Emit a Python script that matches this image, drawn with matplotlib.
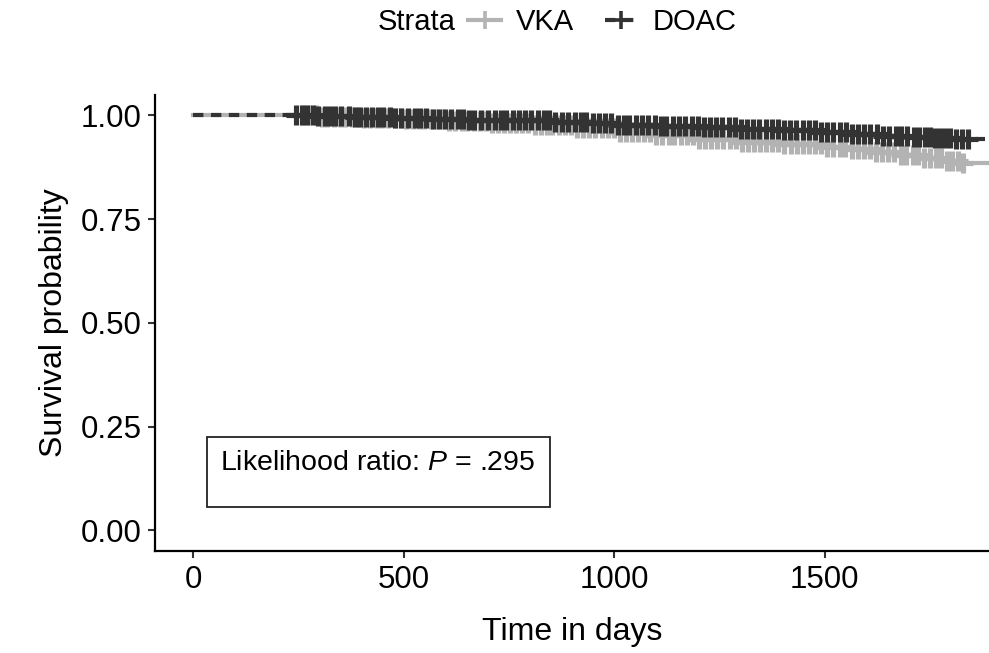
import numpy as np
import matplotlib
matplotlib.use("Agg")
import matplotlib.pyplot as plt
import matplotlib.patches as patches
from matplotlib.lines import Line2D

plt.rcParams['font.family'] = ['Liberation Sans', 'DejaVu Sans']
plt.rcParams['mathtext.fontset'] = 'custom'
plt.rcParams['mathtext.rm'] = 'Liberation Sans'
plt.rcParams['mathtext.it'] = 'Liberation Sans:italic'

# ---------------------------------------------------------------- data
groups = ["VKA", "DOAC"]
colors = {"VKA": "#b3b3b3", "DOAC": "#333333"}

# step times (days) and survival after each step
vka_times = [0, 300, 400, 500, 600, 700, 800, 900, 1000, 1100, 1200, 1300, 1400,
             1500, 1560, 1620, 1680, 1730, 1780, 1820, 1890]
vka_surv = [1.0, 0.997, 0.994, 0.991, 0.987, 0.982, 0.976, 0.969, 0.961, 0.953, 0.944,
            0.937, 0.930, 0.923, 0.918, 0.912, 0.905, 0.898, 0.891, 0.886, 0.886]

doac_times = [0, 290, 380, 470, 560, 650, 750, 850, 950, 1000, 1100, 1200, 1300,
              1400, 1480, 1560, 1630, 1700, 1760, 1800, 1880]
doac_surv = [1.0, 0.998, 0.996, 0.994, 0.992, 0.990, 0.988, 0.985, 0.981, 0.978, 0.975,
             0.971, 0.968, 0.965, 0.960, 0.955, 0.951, 0.948, 0.945, 0.942, 0.942]

# censoring times (days)
vka_cens = [262, 276, 291, 305, 318, 334, 349, 361, 377, 392, 405, 421, 436, 448, 463, 479,
            493, 506, 522, 537, 549, 565, 580, 594, 607, 623, 638, 651, 666, 681, 695, 709,
            724, 739, 752, 767, 782, 796, 811, 825, 840, 853, 868, 883, 897, 912, 926, 941,
            955, 970, 984, 999, 1013, 1028, 1042, 1057, 1071, 1086, 1100, 1114, 1129, 1143,
            1158, 1172, 1187, 1201, 1216, 1230, 1245, 1259, 1274, 1288, 1303, 1317, 1332,
            1346, 1361, 1375, 1390, 1404, 1419, 1433, 1448, 1462, 1477, 1491, 1506, 1520,
            1535, 1549, 1564, 1578, 1593, 1607, 1622, 1636, 1651, 1665, 1680, 1694, 1709,
            1722, 1736, 1749, 1763, 1776, 1790, 1803, 1816, 1828]

doac_cens = [245, 258, 270, 284, 296, 312, 325, 338, 352, 370, 384, 396, 410, 424, 440, 452,
             468, 480, 494, 510, 526, 538, 552, 570, 585, 598, 612, 628, 640, 656, 668, 684,
             700, 716, 730, 744, 760, 774, 788, 802, 818, 832, 846, 860, 876, 890, 906, 920,
             934, 950, 964, 978, 992, 1008, 1022, 1036, 1052, 1066, 1080, 1096, 1110, 1124,
             1140, 1154, 1168, 1184, 1198, 1212, 1228, 1242, 1256, 1272, 1286, 1300, 1316,
             1330, 1344, 1360, 1374, 1388, 1404, 1418, 1432, 1448, 1462, 1476, 1492, 1506,
             1520, 1536, 1550, 1564, 1580, 1594, 1608, 1624, 1638, 1652, 1668, 1682, 1696,
             1712, 1724, 1738, 1750, 1762, 1774, 1786, 1798, 1812, 1826, 1840]

p_text = "Likelihood ratio: $P$ = .295"

curves = {
    "VKA": (vka_times, vka_surv, vka_cens, "-"),
    "DOAC": (doac_times, doac_surv, doac_cens, (0, (2.5, 1.8))),
}

# ---------------------------------------------------------------- plot
fig = plt.figure(figsize=(9.89, 6.53), dpi=100)
ax = fig.add_axes([0.157, 0.156, 0.843, 0.699])

for g in groups:
    t, s, c, ls = curves[g]
    t = np.array(t)
    s = np.array(s)
    ax.step(t, s, where="post", color=colors[g], lw=3, linestyle=ls, zorder=2)
    idx = np.searchsorted(t, c, side="right") - 1
    ax.plot(c, s[idx], linestyle="none", marker="+", markersize=14, mew=3.7,
            color=colors[g], zorder=3)

ax.set_xlim(-90, 1890)
ax.set_ylim(-0.05, 1.05)
ax.set_xticks([0, 500, 1000, 1500])
ax.set_yticks([0, 0.25, 0.5, 0.75, 1.0])
ax.set_yticklabels(["0.00", "0.25", "0.50", "0.75", "1.00"])
ax.tick_params(labelsize=22.5, length=5, width=1.5, colors="#333333", labelcolor="black", pad=5)
for side in ["top", "right"]:
    ax.spines[side].set_visible(False)
for side in ["left", "bottom"]:
    ax.spines[side].set_linewidth(1.6)
ax.set_xlabel("Time in days", fontsize=23, labelpad=16)
ax.set_ylabel("Survival probability", fontsize=23, labelpad=8)

box = patches.Rectangle((33, 0.056), 815, 0.169, fill=True, facecolor="white",
                        edgecolor="#222222", lw=1.3, zorder=4)
ax.add_patch(box)
ax.text(64, 0.162, p_text, fontsize=20.5, ha="left", va="center", zorder=5)

# legend on top
fig.text(0.382, 0.966, "Strata", fontsize=21, ha="left", va="center")
handles = [Line2D([], [], color=colors[g], lw=3, linestyle=curves[g][3], marker="+",
                  markersize=13, mew=2.6) for g in groups]
fig.legend(handles, groups, loc="center left", bbox_to_anchor=(0.473, 0.966), ncol=2,
           frameon=False, fontsize=21, handlelength=1.15, columnspacing=1.05,
           handletextpad=0.5, borderpad=0, borderaxespad=0)

fig.savefig("out.png", dpi=100)
